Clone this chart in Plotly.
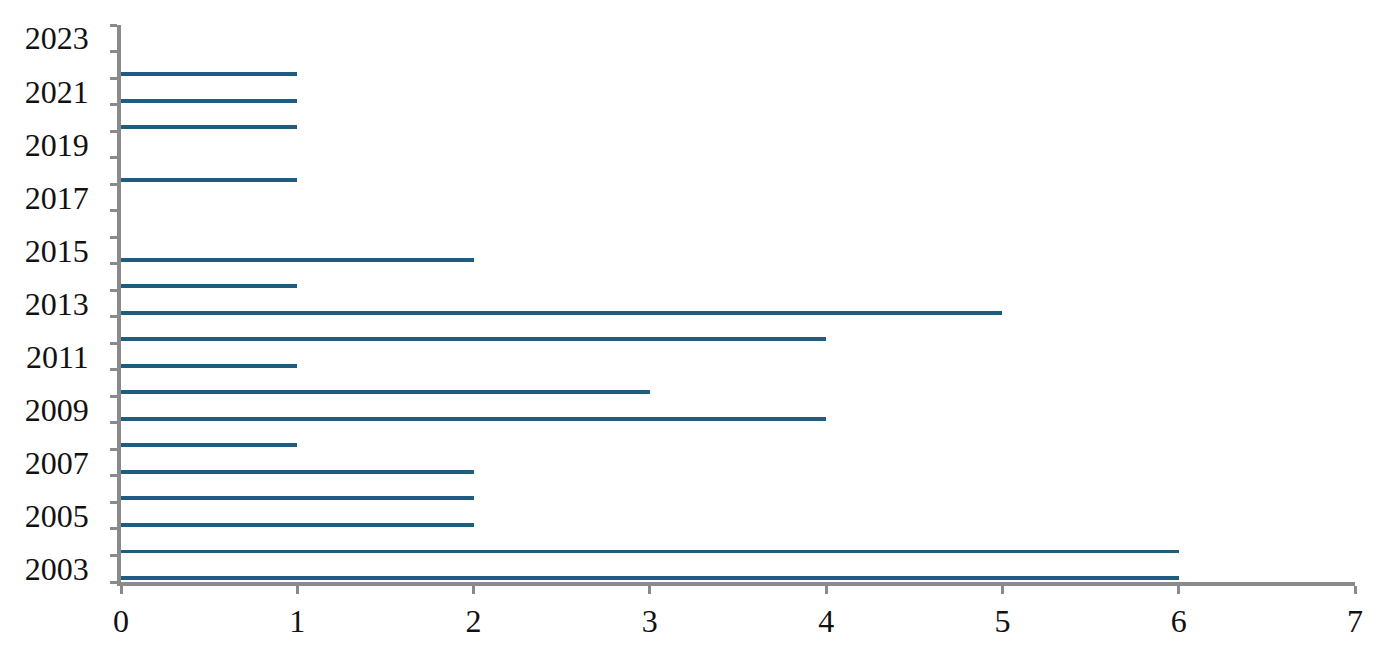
import plotly.graph_objects as go

years = list(range(2003, 2024))
values = [6, 6, 2, 2, 2, 1, 4, 3, 1, 4, 5, 1, 2, 0, 0, 1, 0, 1, 1, 1, 0]
label_years = list(range(2003, 2024, 2))
x_ticks = [0, 1, 2, 3, 4, 5, 6, 7]

axis_color = "#8A8A8A"
bar_color = "#1F5D7E"
font = dict(family="Liberation Serif, Times New Roman, serif", size=32, color="#111111")

fig = go.Figure()
fig.add_trace(go.Bar(
    x=values, y=years, orientation="h",
    width=0.15, offset=-0.425,
    marker=dict(color=bar_color, line=dict(width=0)),
    showlegend=False,
))

fig.update_layout(
    width=1380, height=651,
    margin=dict(l=113, r=33, t=17, b=77),
    paper_bgcolor="white", plot_bgcolor="white",
    font=font,
    bargap=0,
)
fig.update_xaxes(
    range=[0, 7], tickmode="array", tickvals=x_ticks, ticktext=[str(v) for v in x_ticks],
    showgrid=False, zeroline=False,
    showline=True, linecolor=axis_color, linewidth=3.5,
    ticks="outside", ticklen=8, tickwidth=3, tickcolor=axis_color,
    ticklabelstandoff=0,
)
fig.update_yaxes(
    range=[2002.5, 2023.5], tickmode="array", tickvals=label_years,
    ticktext=[str(v) for v in label_years],
    showgrid=False, zeroline=False,
    showline=True, linecolor=axis_color, linewidth=3.5,
    ticks="", ticklen=0,
    minor=dict(tick0=2002.5, dtick=1, ticks="outside", ticklen=7, tickwidth=3, tickcolor=axis_color, showgrid=False),
    ticklabelstandoff=22,
)
fig.write_html("out.html")
